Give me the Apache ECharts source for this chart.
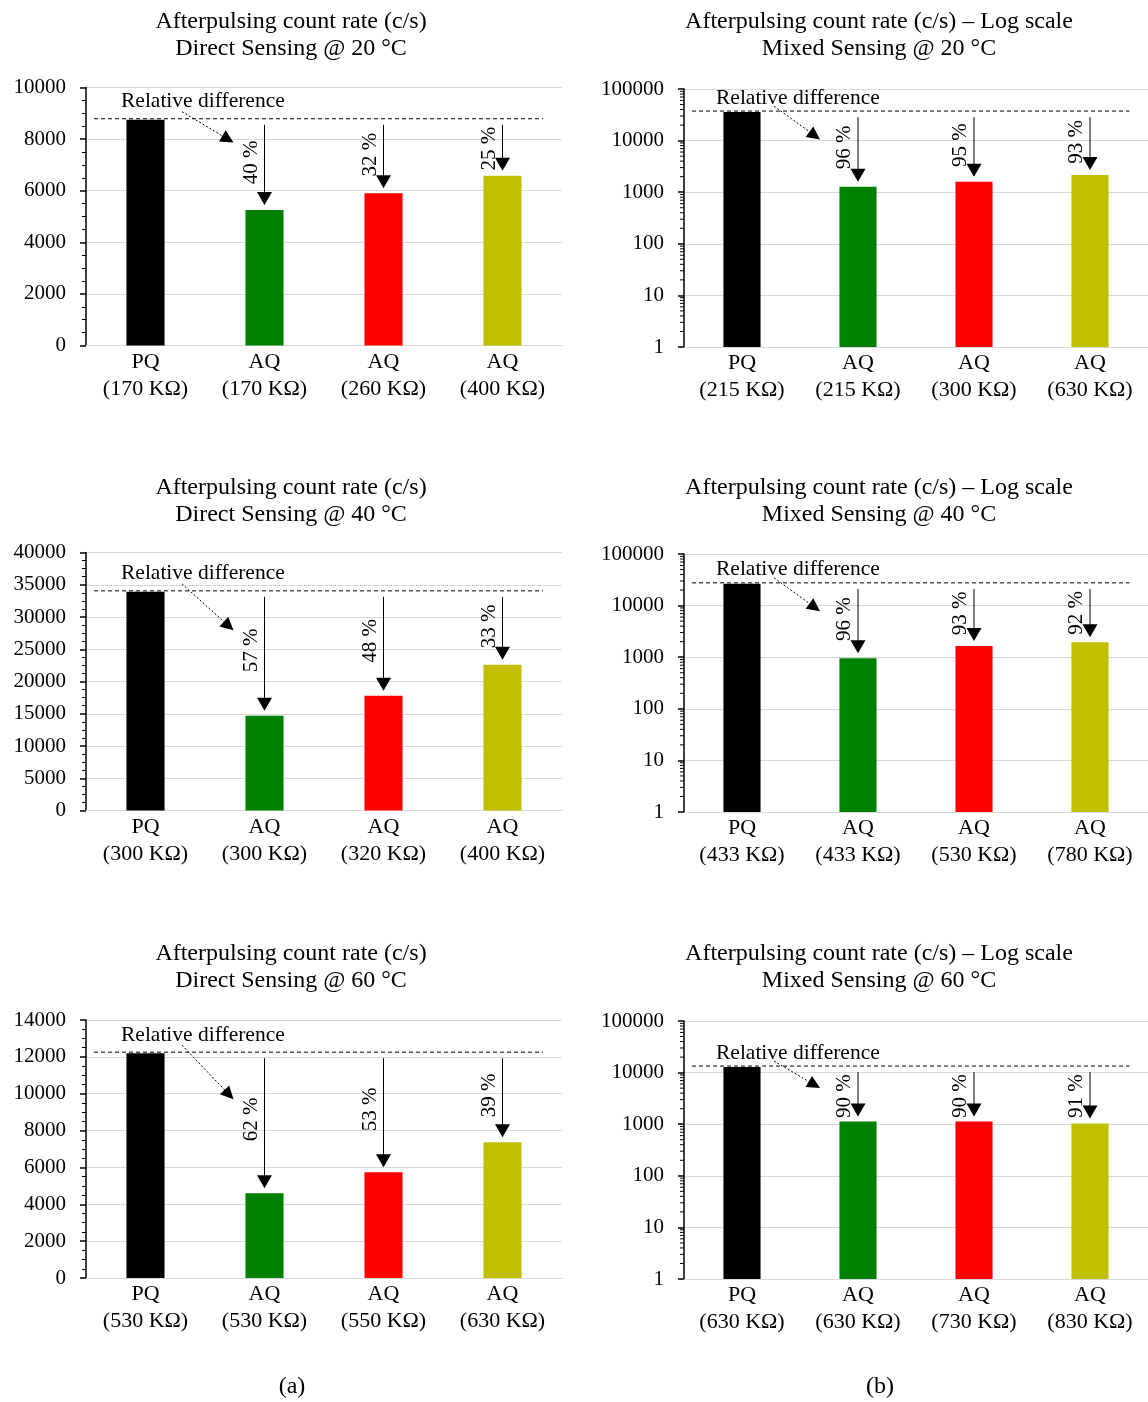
<!DOCTYPE html>
<html><head><meta charset="utf-8">
<script src="https://cdn.jsdelivr.net/npm/echarts@6/dist/echarts.min.js"></script>
<style>html,body{margin:0;padding:0;background:#fff}#c{width:1148px;height:1402px}</style>
</head><body><div id="c"></div>
<script>
const FONT = "'Liberation Serif','Times New Roman',serif";

// ---------- data ----------
const title1 = 'Afterpulsing count rate (c/s)\nDirect Sensing @ 20 °C';
const title2 = 'Afterpulsing count rate (c/s) – Log scale\nMixed Sensing @ 20 °C';
const title3 = 'Afterpulsing count rate (c/s)\nDirect Sensing @ 40 °C';
const title4 = 'Afterpulsing count rate (c/s) – Log scale\nMixed Sensing @ 40 °C';
const title5 = 'Afterpulsing count rate (c/s)\nDirect Sensing @ 60 °C';
const title6 = 'Afterpulsing count rate (c/s) – Log scale\nMixed Sensing @ 60 °C';

const cats1 = ['PQ\n(170 KΩ)', 'AQ\n(170 KΩ)', 'AQ\n(260 KΩ)', 'AQ\n(400 KΩ)'];
const cats2 = ['PQ\n(215 KΩ)', 'AQ\n(215 KΩ)', 'AQ\n(300 KΩ)', 'AQ\n(630 KΩ)'];
const cats3 = ['PQ\n(300 KΩ)', 'AQ\n(300 KΩ)', 'AQ\n(320 KΩ)', 'AQ\n(400 KΩ)'];
const cats4 = ['PQ\n(433 KΩ)', 'AQ\n(433 KΩ)', 'AQ\n(530 KΩ)', 'AQ\n(780 KΩ)'];
const cats5 = ['PQ\n(530 KΩ)', 'AQ\n(530 KΩ)', 'AQ\n(550 KΩ)', 'AQ\n(630 KΩ)'];
const cats6 = ['PQ\n(630 KΩ)', 'AQ\n(630 KΩ)', 'AQ\n(730 KΩ)', 'AQ\n(830 KΩ)'];

const vals1 = [8750, 5250, 5900, 6580];
const vals2 = [35700, 1280, 1600, 2150];
const vals3 = [33900, 14700, 17800, 22600];
const vals4 = [26400, 950, 1650, 1950];
const vals5 = [12200, 4600, 5740, 7370];
const vals6 = [12800, 1130, 1130, 1035];

const pct1 = ['40 %', '32 %', '25 %'];
const pct2 = ['96 %', '95 %', '93 %'];
const pct3 = ['57 %', '48 %', '33 %'];
const pct4 = ['96 %', '93 %', '92 %'];
const pct5 = ['62 %', '53 %', '39 %'];
const pct6 = ['90 %', '90 %', '91 %'];

const yMax1 = 10000, yStep1 = 2000;
const yMax3 = 40000, yStep3 = 5000;
const yMax5 = 14000, yStep5 = 2000;
const logMin = 1, logMax = 100000;
const logMinorTicks = [2,3,4,5,6,7,8,9,20,30,40,50,60,70,80,90,200,300,400,500,600,700,800,900,
  2000,3000,4000,5000,6000,7000,8000,9000,20000,30000,40000,50000,60000,70000,80000,90000];
const refText = 'Relative difference';
const panelLetters = ['(a)', '(b)'];

// ---------- styles / layout ----------
const barColors = ['#000000', '#008000', '#ff0000', '#c0c000'];
const GRID_H = 258;
const panels = [
  {title: title1, cats: cats1, vals: vals1, pct: pct1, log: false, max: yMax1, step: yStep1, left: 86, top: 87.5, width: 476, tx: 291, ty: 35},
  {title: title2, cats: cats2, vals: vals2, pct: pct2, log: true, left: 684, top: 89, width: 465, tx: 879, ty: 35},
  {title: title3, cats: cats3, vals: vals3, pct: pct3, log: false, max: yMax3, step: yStep3, left: 86, top: 552.5, width: 476, tx: 291, ty: 501},
  {title: title4, cats: cats4, vals: vals4, pct: pct4, log: true, left: 684, top: 554, width: 465, tx: 879, ty: 501},
  {title: title5, cats: cats5, vals: vals5, pct: pct5, log: false, max: yMax5, step: yStep5, left: 86, top: 1020, width: 476, tx: 291, ty: 967},
  {title: title6, cats: cats6, vals: vals6, pct: pct6, log: true, left: 684, top: 1021, width: 465, tx: 879, ty: 967}
];

function makeAnno(p) {
  return function (params, api) {
    const k = api.value(0);
    const cs = params.coordSys;
    const refV = p.vals[0];
    const refY = api.coord([0, refV])[1] - 1;
    const geo = j => {
      const pt = api.coord([j, p.vals[j]]);
      const start = refY + 6, tip = pt[1] - 5;
      const len = tip - start;
      return {x: pt[0], start, tip, lc: start + Math.max(0.47 * len, 24)};
    };
    const children = [];
    if (k === 0) {
      const band = api.size([1, 0])[0];
      const xEnd = api.coord([p.vals.length - 1, refV])[0] + 0.34 * band;
      children.push({type: 'line', shape: {x1: cs.x + 8, y1: refY, x2: xEnd, y2: refY},
        style: {stroke: '#000', lineWidth: 1, lineDash: [4, 3]}});
      children.push({type: 'text', x: cs.x + (p.log ? 32 : 35), y: refY - (p.log ? 13 : 17),
        style: {text: refText, fontFamily: FONT, fontSize: 21.5, fill: '#000', align: 'left', verticalAlign: 'middle'}});
      const g = geo(1);
      const labTop = g.lc - 22;
      const sx = cs.x + (p.log ? 90 : 96), sy = refY - (p.log ? 5 : 7);
      const tx = g.x - (p.log ? 38 : 31), ty = labTop + (p.log ? 14 : 2);
      const ang = Math.atan2(ty - sy, tx - sx);
      const hl = 13, hw = 6.5;
      const bx = tx - hl * Math.cos(ang), by = ty - hl * Math.sin(ang);
      children.push({type: 'line', shape: {x1: sx, y1: sy, x2: bx, y2: by},
        style: {stroke: '#000', lineWidth: 1, lineDash: [2, 2]}});
      children.push({type: 'polygon', shape: {points: [[tx, ty],
        [bx - hw * Math.sin(ang), by + hw * Math.cos(ang)],
        [bx + hw * Math.sin(ang), by - hw * Math.cos(ang)]]}, style: {fill: '#000'}});
    } else {
      const g = geo(k);
      children.push({type: 'line', shape: {x1: g.x, y1: g.start, x2: g.x, y2: g.tip - 12},
        style: {stroke: '#000', lineWidth: 1}});
      children.push({type: 'polygon', shape: {points: [[g.x - 7.5, g.tip - 13], [g.x + 7.5, g.tip - 13], [g.x, g.tip]]},
        style: {fill: '#000'}});
      children.push({type: 'text', x: g.x - 3, y: g.lc, rotation: Math.PI / 2,
        style: {text: p.pct[k - 1], fontFamily: FONT, fontSize: 21, fill: '#000', align: 'center', verticalAlign: 'bottom'}});
    }
    return {type: 'group', children};
  };
}

function logTickRender(params, api) {
  const y = api.coord([0, api.value(1)])[1];
  const x = params.coordSys.x;
  return {type: 'line', shape: {x1: x - 4, y1: y, x2: x, y2: y}, style: {stroke: '#000', lineWidth: 1}};
}

const series = [];
panels.forEach((p, i) => {
  series.push({type: 'bar', xAxisIndex: i, yAxisIndex: i, barWidth: '32%', z: 2,
    data: p.vals.map((v, k) => ({value: v, itemStyle: {color: barColors[k]}}))});
  series.push({type: 'custom', xAxisIndex: i, yAxisIndex: i, z: 5, silent: true, clip: false,
    data: p.vals.map((v, k) => [k, v]), renderItem: makeAnno(p)});
  if (p.log) {
    series.push({type: 'custom', xAxisIndex: i, yAxisIndex: i, z: 5, silent: true, clip: false,
      data: logMinorTicks.map(v => [0, v]), renderItem: logTickRender});
  }
});

const option = {
  animation: false,
  backgroundColor: '#fff',
  grid: panels.map(p => ({left: p.left, top: p.top, width: p.width, height: GRID_H})),
  xAxis: panels.map((p, i) => ({
    type: 'category', gridIndex: i, data: p.cats,
    axisLine: {show: true, onZero: false, lineStyle: {color: '#d9d9d9', width: 1}},
    axisTick: {show: false},
    axisLabel: {color: '#000', fontFamily: FONT, fontSize: 22, lineHeight: 27, margin: 3, interval: 0}
  })),
  yAxis: panels.map((p, i) => {
    const base = {
      gridIndex: i,
      axisLine: {show: true, onZero: false, lineStyle: {color: '#000', width: 1.5}},
      axisTick: {show: true, length: 6, lineStyle: {color: '#000', width: 1.5}},
      splitLine: {show: true, lineStyle: {color: '#d9d9d9', width: 1}},
      axisLabel: {color: '#000', fontFamily: FONT, fontSize: 21, margin: 20, formatter: v => String(Math.round(v))}
    };
    if (p.log) {
      return Object.assign(base, {type: 'log', logBase: 10, min: logMin, max: logMax, minorTick: {show: false}});
    }
    return Object.assign(base, {type: 'value', min: 0, max: p.max, interval: p.step,
      minorTick: {show: true, splitNumber: 4, length: 4, lineStyle: {color: '#000', width: 1}}});
  }),
  series: series,
  graphic: panels.map(p => ({type: 'text', x: p.tx, y: p.ty, z: 10,
    style: {text: p.title, fontFamily: FONT, fontSize: 24, lineHeight: 27, fill: '#000', align: 'center', verticalAlign: 'middle'}}))
    .concat([
      {type: 'text', x: 292, y: 1387, style: {text: panelLetters[0], fontFamily: FONT, fontSize: 24, fill: '#000', align: 'center', verticalAlign: 'middle'}},
      {type: 'text', x: 880, y: 1387, style: {text: panelLetters[1], fontFamily: FONT, fontSize: 24, fill: '#000', align: 'center', verticalAlign: 'middle'}}
    ])
};

const chart = echarts.init(document.getElementById('c'), null, {renderer: 'canvas'});
chart.setOption(option);
</script>
</body></html>
